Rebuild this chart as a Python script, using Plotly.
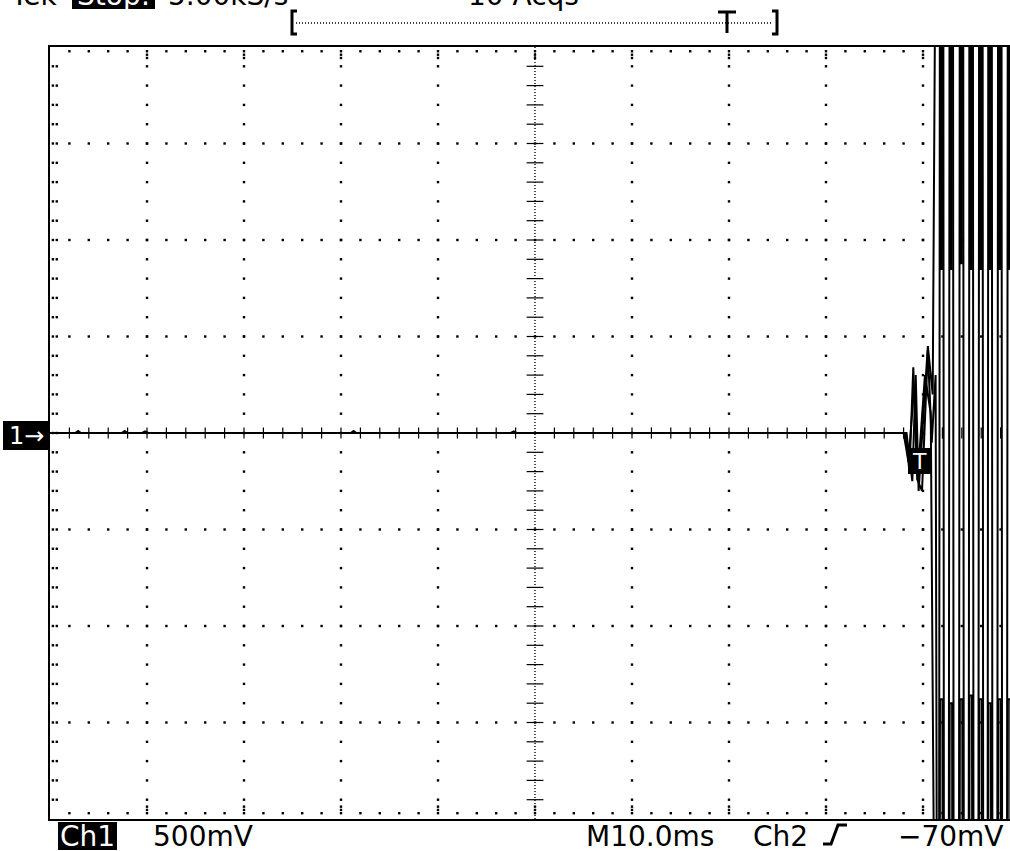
import numpy as np
import plotly.graph_objects as go

# --- captured waveform (time in ms, level in V; 10 ms/div, 500 mV/div) ---
# three overlaid acquisitions; levels beyond +/-2 V run off the screen
acq_a_t = [0, 2.6, 2.9, 3.2, 7.4, 7.7, 8.0, 9.5, 9.8, 10.1, 31.0, 31.3, 31.6, 47.5, 47.8, 48.1, 88.2,
           88.6, 89.0, 89.4, 89.9, 90.5, 90.9, 91.3,
           91.6, 91.8, 92.05, 92.2,
           92.6, 92.8, 93.05, 93.2,
           93.65, 93.85, 94.1, 94.25,
           94.65, 94.85, 95.1, 95.25,
           95.65, 95.85, 96.1, 96.25,
           96.6, 96.8, 97.05, 97.2,
           97.6, 97.8, 98.05, 98.2,
           98.6, 98.8, 99.05, 99.2]
acq_a_v = [0, 0, 0.01, 0, 0, 0.01, 0, 0, 0.008, 0, 0, 0.01, 0, 0, 0.008, 0, 0,
           -0.2, 0.34, -0.24, -0.3, 0.43, -0.05, 0.3,
           -6, 6, 6, -6,
           -6, 6, 6, -6,
           -6, 6, 6, -6,
           -6, 6, 6, -6,
           -6, 6, 6, -6,
           -6, 6, 6, -6,
           -6, 6, 6, -6,
           -6, 6, 6, -6]

acq_b_t = [0, 88.3, 88.9, 89.25, 89.55, 90.5, 91.0,
           91.7, 91.8, 91.95, 92.05,
           92.7, 92.8, 92.95, 93.05,
           93.75, 93.85, 94.0, 94.1,
           94.75, 94.85, 95.0, 95.1,
           95.75, 95.85, 96.0, 96.1,
           96.7, 96.8, 96.95, 97.05,
           97.7, 97.8, 97.95, 98.05,
           98.7, 98.8, 98.95, 99.05]
acq_b_v = [0, 0, -0.25, 0.3, -0.3, 0.45, 0.2,
           6, 0.85, 0.85, 6,
           6, 0.85, 0.85, 6,
           6, 0.88, 0.88, 6,
           6, 0.85, 0.85, 6,
           6, 0.85, 0.85, 6,
           6, 0.85, 0.85, 6,
           6, 0.85, 0.85, 6,
           6, 0.85, 0.85, 6]

acq_c_t = [0, 88.0, 88.5, 89.1, 89.5, 90.2, 90.8,
           91.65, 91.75, 92.0, 92.1,
           92.65, 92.75, 93.0, 93.1,
           93.7, 93.8, 94.05, 94.15,
           94.7, 94.8, 95.05, 95.15,
           95.7, 95.8, 96.05, 96.15,
           96.65, 96.75, 97.0, 97.1,
           97.65, 97.75, 98.0, 98.1,
           98.65, 98.75, 99.0, 99.1]
acq_c_v = [0, 0, -0.15, 0.25, -0.2, 0.3, 0.1,
           -6, -1.38, -1.38, -6,
           -6, -1.4, -1.4, -6,
           -6, -1.38, -1.38, -6,
           -6, -1.36, -1.36, -6,
           -6, -1.38, -1.38, -6,
           -6, -1.4, -1.4, -6,
           -6, -1.38, -1.38, -6,
           -6, -1.38, -1.38, -6]

X_MAX = 960 / 9.7   # screen is cut at the right edge of the capture
FONT = "DejaVu Sans"


def xp(p):
    return (p - 50) / 960


def yp(p):
    return (819 - p) / 772


fig = go.Figure()

# graticule: dotted divisions, edge ticks and centre axes
dot = dict(symbol="square", size=2.4, color="black", line=dict(width=0))
gx, gy = [], []
for t in range(10, 100, 10):
    if t == 50:
        continue
    for v in np.arange(-1.9, 1.95, 0.1):
        gx.append(t); gy.append(v)
for v in (-1.5, -1.0, -0.5, 0.5, 1.0, 1.5):
    for t in range(2, 99, 2):
        gx.append(t); gy.append(v)
for t in range(2, 99, 2):
    gx += [t, t]; gy += [2 - 0.022, -2 + 0.03]
    if t % 10 == 0:
        gx += [t, t, t, t]; gy += [2 - 0.04, 2 - 0.057, -2 + 0.047, -2 + 0.064]
for v in np.arange(-1.9, 1.95, 0.1):
    gx += [0.3, 0.7]; gy += [v, v]
fig.add_trace(go.Scatter(x=gx, y=gy, mode="markers", marker=dot, hoverinfo="skip"))

tx = [t for t in range(2, 99, 2) if t != 50]
fig.add_trace(go.Scatter(x=tx, y=[0] * len(tx), mode="markers", hoverinfo="skip",
                         marker=dict(symbol="line-ns", size=8, line=dict(width=1.2, color="black"))))
vy = [v for v in np.arange(-1.9, 1.95, 0.1) if abs(v) > 1e-6]
fig.add_trace(go.Scatter(x=[50] * len(vy), y=vy, mode="markers", hoverinfo="skip",
                         marker=dict(symbol="line-ew", size=12, line=dict(width=1.2, color="black"))))
fig.add_shape(type="line", x0=50, x1=50, y0=-2, y1=2, xref="x", yref="y",
              line=dict(color="black", width=1.4, dash="1px,2px"))

# waveform
for tt, vv in [(acq_c_t, acq_c_v), (acq_b_t, acq_b_v), (acq_a_t, acq_a_v)]:
    fig.add_trace(go.Scatter(x=tt, y=vv, mode="lines", line=dict(color="black", width=2),
                             hoverinfo="skip"))

shapes = []
ann = []


def box(x0, x1, y0, y1):
    shapes.append(dict(type="rect", xref="paper", yref="paper", x0=xp(x0), x1=xp(x1),
                       y0=yp(y1), y1=yp(y0), fillcolor="black", line=dict(width=0), layer="above"))


def text(s, x, y, size=28, anchor="left", color="black"):
    ann.append(dict(text=s, x=xp(x), y=yp(y), xref="paper", yref="paper", showarrow=False,
                    xanchor=anchor, yanchor="middle", font=dict(family=FONT, size=size, color=color)))


# header (cut off by the top of the capture, as in the original screen grab)
text("Tek", 8, -4)
box(72, 155, -30, 9)
text("Stop:", 113, -4, anchor="center", color="white")
text("5.00kS/s", 166, -4)
text("10 Acqs", 466, -4)

# record / trigger position bar
shapes.append(dict(type="line", xref="paper", yref="paper", x0=xp(296), x1=xp(773), y0=yp(23), y1=yp(23),
                   line=dict(color="black", width=1.3, dash="1px,2px")))
for path in ["M{},{} L{},{} L{},{} L{},{}".format(xp(297), yp(11), xp(292), yp(11), xp(292), yp(34), xp(297), yp(34)),
             "M{},{} L{},{} L{},{} L{},{}".format(xp(772), yp(11), xp(777), yp(11), xp(777), yp(34), xp(772), yp(34)),
             "M{},{} L{},{} M{},{} L{},{}".format(xp(718), yp(12), xp(736), yp(12), xp(727), yp(12), xp(727), yp(33))]:
    shapes.append(dict(type="path", xref="paper", yref="paper", path=path,
                       line=dict(color="black", width=3)))

# channel ground marker and trigger marker
box(3, 50, 421, 450)
text("1→", 26, 436, size=24, anchor="center", color="white")
box(908, 931, 448, 474)
text("T", 919.5, 461, size=22, anchor="center", color="white")

# bottom readout
box(58, 117, 822, 850)
text("Ch1", 87.5, 836, anchor="center", color="white")
text("500mV", 151, 836)
text("M10.0ms", 584, 836)
text("Ch2", 751, 836)
shapes.append(dict(type="path", xref="paper", yref="paper",
                   path="M{},{} L{},{} L{},{} L{},{}".format(xp(823), yp(844), xp(831), yp(844),
                                                            xp(838), yp(825), xp(847), yp(825)),
                   line=dict(color="black", width=3)))
text("−70mV", 1006, 836, anchor="right")

fig.update_layout(
    width=1010, height=851,
    margin=dict(l=50, r=0, t=47, b=32),
    paper_bgcolor="white", plot_bgcolor="white",
    showlegend=False,
    shapes=list(fig.layout.shapes) + shapes,
    annotations=ann,
)
fig.update_xaxes(range=[0, X_MAX], showgrid=False, zeroline=False, showticklabels=False, ticks="",
                 showline=True, linecolor="black", linewidth=2, mirror=True)
fig.update_yaxes(range=[-2, 2], showgrid=False, zeroline=False, showticklabels=False, ticks="",
                 showline=True, linecolor="black", linewidth=2)

fig.write_html("out.html", config={"displayModeBar": False},
               post_script="document.body.style.margin='0';document.body.style.overflow='hidden';")
